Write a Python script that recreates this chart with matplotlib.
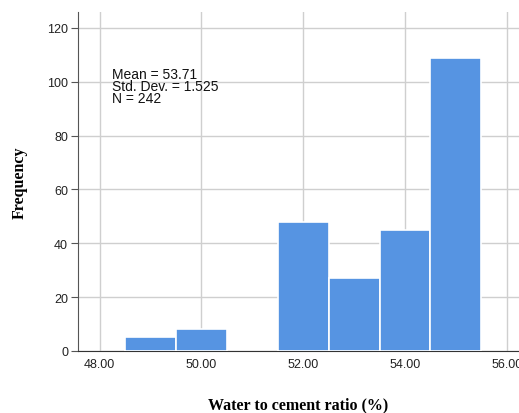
import numpy as np
import matplotlib.pyplot as plt

# histogram of water/cement ratio, bins of width 1
bin_left = [48.5, 49.5, 51.5, 52.5, 53.5, 54.5]
counts = [5, 8, 48, 27, 45, 109]
bin_width = 1.0
x_ticks = [48, 50, 52, 54, 56]
y_ticks = [0, 20, 40, 60, 80, 100, 120]
stats_text = "Mean = 53.71\nStd. Dev. = 1.525\nN = 242"

fig = plt.figure(figsize=(5.19, 4.14), dpi=100)
ax = fig.add_axes([0.150, 0.150, 0.850, 0.819])

ax.bar(bin_left, counts, width=bin_width, align='edge', color='#5694e2',
       edgecolor='white', linewidth=1.2, zorder=3)

ax.set_xlim(47.57, 56.24)
ax.set_ylim(0, 126)
ax.set_xticks(x_ticks)
ax.set_xticklabels(['%.2f' % v for v in x_ticks])
ax.set_yticks(y_ticks)
ax.grid(True, color='#cfcfcf', linewidth=1.0, zorder=0)

for side in ['top', 'right']:
    ax.spines[side].set_visible(False)
ax.spines['left'].set_color('#555555')
ax.spines['bottom'].set_color('#333333')
ax.tick_params(axis='y', length=5, color='#555555', labelsize=9,
               labelcolor='#222222', pad=2)
ax.tick_params(axis='x', length=0, labelsize=9, labelcolor='#222222', pad=5)
for lab in ax.get_xticklabels() + ax.get_yticklabels():
    lab.set_family('Liberation Sans')

ax.text(48.24, 105.6, stats_text, fontsize=10, family='Liberation Sans',
        va='top', ha='left', linespacing=0.85, color='#111111', zorder=4)

ax.set_xlabel('Water to cement ratio (%)', family='Liberation Serif',
              fontweight='bold', fontsize=11.5, labelpad=19)
ax.set_ylabel('Frequency', family='Liberation Serif', fontweight='bold',
              fontsize=11.5, labelpad=14)

fig.savefig('out.png', dpi=100)
